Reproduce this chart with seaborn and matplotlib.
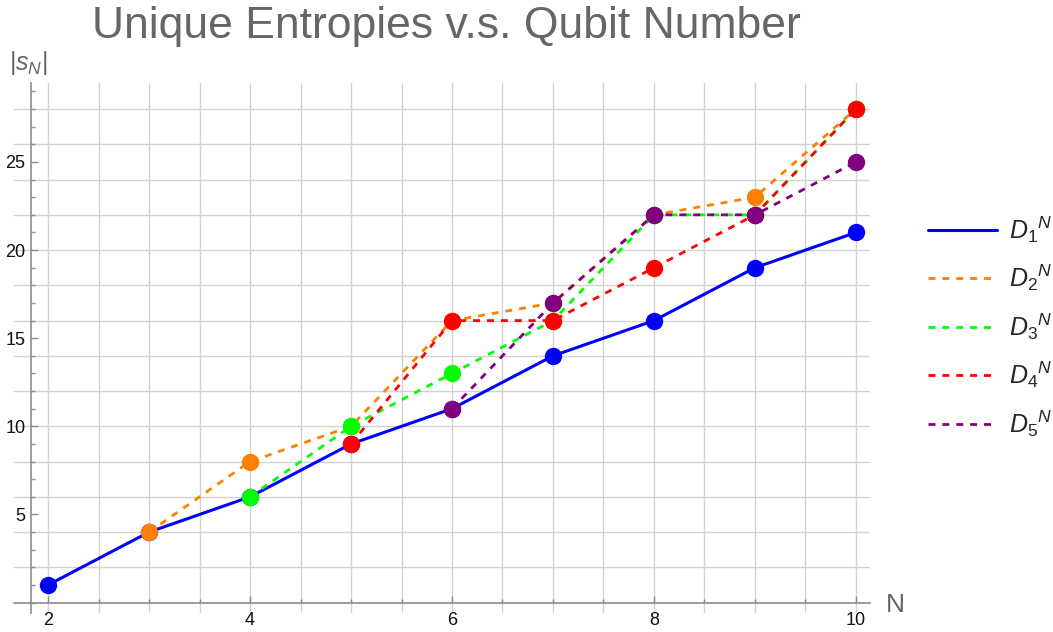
import numpy as np
import pandas as pd
import matplotlib
matplotlib.use("Agg")
import matplotlib.pyplot as plt
from matplotlib.lines import Line2D
from matplotlib.ticker import MultipleLocator
import seaborn as sns

# values
n_d1 = [2, 3, 4, 5, 6, 7, 8, 9, 10]
s_d1 = [1, 4, 6, 9, 11, 14, 16, 19, 21]
n_d2 = [3, 4, 5, 6, 7, 8, 9, 10]
s_d2 = [4, 8, 10, 16, 17, 22, 23, 28]
n_d3 = [4, 5, 6, 7, 8, 9, 10]
s_d3 = [6, 10, 13, 16, 22, 22, 28]
n_d4 = [5, 6, 7, 8, 9, 10]
s_d4 = [9, 16, 16, 19, 22, 28]
n_d5 = [6, 7, 8, 9, 10]
s_d5 = [11, 17, 22, 22, 25]

labels = [r"${D_1}^N$", r"${D_2}^N$", r"${D_3}^N$", r"${D_4}^N$", r"${D_5}^N$"]
colors = ["#0000ff", "#ff8000", "#00ff00", "#ff0000", "#800080"]

sns.set_theme(style="white")
plt.rcParams["font.family"] = ["Liberation Sans", "DejaVu Sans"]
plt.rcParams["mathtext.fontset"] = "custom"
plt.rcParams["mathtext.rm"] = "Liberation Sans"
plt.rcParams["mathtext.it"] = "Liberation Sans:italic"

fig = plt.figure(figsize=(10.53, 6.32), dpi=100)
ax = fig.add_axes([14 / 1053, 1 - 613 / 632, (870 - 14) / 1053, (613 - 83) / 632])
ax.set_xlim(1.663, 10.139)
ax.set_ylim(-0.59, 29.48)

# grid like Mathematica: every 0.5 in N, every 2 in |s_N|
for gx in np.arange(2, 10.01, 0.5):
    ax.axvline(gx, color="#d2d2d2", lw=1, zorder=0)
for gy in np.arange(2, 28.01, 2):
    ax.axhline(gy, color="#d2d2d2", lw=1, zorder=0)

series = [(n_d1, s_d1), (n_d2, s_d2), (n_d3, s_d3), (n_d4, s_d4), (n_d5, s_d5)]
for i, ((xs, ys), c) in enumerate(zip(series, colors)):
    df = pd.DataFrame({"N": xs, "S": ys})
    ls = "-" if i == 0 else (0, (2.5, 2.5))
    lw = 2.2 if i == 0 else 2.0
    sns.lineplot(data=df, x="N", y="S", ax=ax, color=c, linestyle=ls, lw=lw,
                 marker="o", markersize=12.5, markeredgewidth=0, zorder=3 + i)

for side in ["top", "right"]:
    ax.spines[side].set_visible(False)
ax.spines["left"].set_position(("data", 1.832))
ax.spines["bottom"].set_position(("data", 0))
for side in ["left", "bottom"]:
    ax.spines[side].set_color("#8c8c8c")
    ax.spines[side].set_linewidth(1.2)

ax.xaxis.set_major_locator(MultipleLocator(2))
ax.xaxis.set_minor_locator(MultipleLocator(0.5))
ax.yaxis.set_major_locator(MultipleLocator(5))
ax.yaxis.set_minor_locator(MultipleLocator(1))
ax.set_yticks([5, 10, 15, 20, 25])
ax.set_xticks([2, 4, 6, 8, 10])
ax.tick_params(which="both", direction="in", color="#8c8c8c", width=1,
               bottom=True, left=True, top=False, right=False)
ax.tick_params(which="major", length=5, labelsize=13, labelcolor="#111111")
ax.tick_params(which="minor", length=3)
ax.tick_params(axis="x", which="major", pad=7)
ax.tick_params(axis="y", which="major", pad=4)
ax.set_xlabel("")
ax.set_ylabel("")

fig.text(446 / 1053, 1 - 38 / 632, "Unique Entropies v.s. Qubit Number",
         ha="center", va="baseline", fontsize=32, color="#666666")
fig.text(9 / 1053, 1 - 70 / 632, r"$|s_N|$", ha="left", va="baseline",
         fontsize=18, color="#666666")
fig.text(886 / 1053, 1 - 612 / 632, "N", ha="left", va="baseline",
         fontsize=19, color="#666666")

handles = [Line2D([], [], color=c, lw=2.2 if i == 0 else 2.0,
                  linestyle="-" if i == 0 else (0, (2.5, 2.5)))
           for i, c in enumerate(colors)]
fig.legend(handles, labels, loc="upper left", bbox_to_anchor=(918 / 1053, 1 - 204 / 632),
           frameon=False, fontsize=18, handlelength=2.75, handletextpad=0.5,
           labelspacing=0.72, borderaxespad=0)

fig.savefig("out.png", dpi=100)
